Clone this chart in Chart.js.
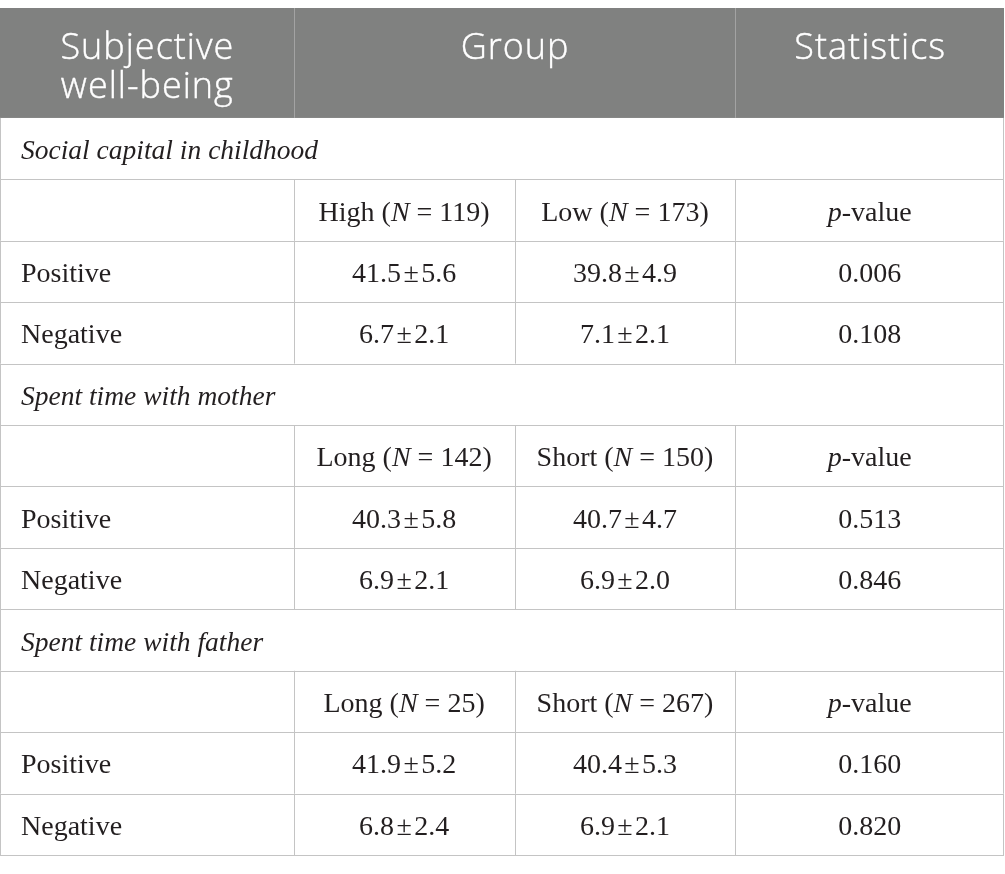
<!DOCTYPE html>
<html>
<head>
<meta charset="utf-8">
<script src="https://cdn.jsdelivr.net/npm/chart.js@4.4.1/dist/chart.umd.min.js"></script>
<style>
  html, body { margin: 0; padding: 0; background: #fff; }
  #wrap { width: 1005px; height: 874px; }
</style>
</head>
<body>
<div id="wrap"><canvas id="tableChart"></canvas></div>
<script>
// table content
const headerCols = ['Subjective\nwell-being', 'Group', 'Statistics'];
const sections = ['Social capital in childhood', 'Spent time with mother', 'Spent time with father'];
const groupA = ['High', 'Long', 'Long'];
const nA = [119, 142, 25];
const groupB = ['Low', 'Short', 'Short'];
const nB = [173, 150, 267];
const measures = ['Positive', 'Negative'];
const positiveA = [[41.5, 5.6], [40.3, 5.8], [41.9, 5.2]];
const positiveB = [[39.8, 4.9], [40.7, 4.7], [40.4, 5.3]];
const negativeA = [[6.7, 2.1], [6.9, 2.1], [6.8, 2.4]];
const negativeB = [[7.1, 2.1], [6.9, 2.0], [6.9, 2.1]];
const pPositive = [0.006, 0.513, 0.160];
const pNegative = [0.108, 0.846, 0.820];

// column edges as a fraction of the table width
const colEdges = [0, 0.2925, 0.5125, 0.7325, 1];
const headerUnits = 1.79; // header height in body-row units

const hair = '\u200A';
function meanSd(v) { return [{ t: v[0].toFixed(1) + hair + '±' + hair + v[1].toFixed(1) }]; }
function nLabel(g, n) { return [{ t: g + ' (' }, { t: 'N', i: true }, { t: ' = ' + n + ')' }]; }
const pLabel = [{ t: 'p', i: true }, { t: '-value' }];

// build body rows from the arrays
const rows = [];
sections.forEach((s, k) => {
  rows.push({ type: 'section', text: s });
  rows.push({ type: 'row', cells: [[], nLabel(groupA[k], nA[k]), nLabel(groupB[k], nB[k]), pLabel] });
  rows.push({ type: 'row', cells: [[{ t: measures[0] }], meanSd(positiveA[k]), meanSd(positiveB[k]), [{ t: pPositive[k].toFixed(3) }]] });
  rows.push({ type: 'row', cells: [[{ t: measures[1] }], meanSd(negativeA[k]), meanSd(negativeB[k]), [{ t: pNegative[k].toFixed(3) }]] });
});

const SERIF = '"Liberation Serif", "DejaVu Serif", serif';
const SANS = '"Open Sans", "Noto Sans", sans-serif';
const FS = 28;

function segWidth(ctx, segs, size) {
  let w = 0;
  segs.forEach(s => { ctx.font = (s.i ? 'italic ' : '') + size + 'px ' + SERIF; w += ctx.measureText(s.t).width; });
  return w;
}
function drawSegs(ctx, segs, x, y, size) {
  segs.forEach(s => {
    ctx.font = (s.i ? 'italic ' : '') + size + 'px ' + SERIF;
    ctx.fillText(s.t, x, y);
    x += ctx.measureText(s.t).width;
  });
}

const tablePlugin = {
  id: 'tablePlugin',
  afterDraw(chart) {
    const ctx = chart.ctx;
    const xs = chart.scales.x, ys = chart.scales.y;
    const cx = colEdges.map(e => xs.getPixelForValue(e));
    const left = cx[0], right = cx[cx.length - 1];
    const top = ys.getPixelForValue(0);
    const hBot = ys.getPixelForValue(headerUnits);
    ctx.save();

    // header
    ctx.fillStyle = '#808180';
    ctx.fillRect(left, top, right - left, hBot - top);
    ctx.strokeStyle = '#a3a3a3';
    ctx.lineWidth = 1;
    [cx[1], cx[3]].forEach(x => {
      ctx.beginPath(); ctx.moveTo(Math.round(x) + 0.5, top); ctx.lineTo(Math.round(x) + 0.5, hBot); ctx.stroke();
    });
    ctx.fillStyle = '#ffffff';
    ctx.strokeStyle = '#ffffff';
    ctx.lineWidth = 0.4;
    ctx.font = '300 36px ' + SANS;
    ctx.letterSpacing = '1px';
    ctx.textAlign = 'center';
    ctx.textBaseline = 'alphabetic';
    const hdrSpans = [[cx[0], cx[1]], [cx[1], cx[3]], [cx[3], cx[4]]];
    headerCols.forEach((h, i) => {
      const mid = (hdrSpans[i][0] + hdrSpans[i][1]) / 2 + 0.5;
      h.split('\n').forEach((line, j) => {
        ctx.fillText(line, mid, top + 51 + j * 39);
        ctx.strokeText(line, mid, top + 51 + j * 39); // a touch heavier than light
      });
    });
    ctx.letterSpacing = '0px';

    // body
    ctx.strokeStyle = '#c4c4c4';
    ctx.lineWidth = 1;
    ctx.textAlign = 'left';
    rows.forEach((r, i) => {
      const y0 = ys.getPixelForValue(headerUnits + i);
      const y1 = ys.getPixelForValue(headerUnits + i + 1);
      const base = (y0 + y1) / 2 + 10.5;
      ctx.beginPath();
      ctx.moveTo(left, Math.round(y1) + 0.5); ctx.lineTo(right, Math.round(y1) + 0.5);
      ctx.moveTo(left + 0.5, y0); ctx.lineTo(left + 0.5, y1);
      ctx.moveTo(right - 0.5, y0); ctx.lineTo(right - 0.5, y1);
      if (r.type === 'row') {
        cx.slice(1, 4).forEach(x => { ctx.moveTo(Math.round(x) + 0.5, y0); ctx.lineTo(Math.round(x) + 0.5, y1); });
      }
      ctx.stroke();
      ctx.fillStyle = '#231f20';
      if (r.type === 'section') {
        drawSegs(ctx, [{ t: r.text, i: true }], left + 21, base, FS - 0.5);
      } else {
        r.cells.forEach((segs, c) => {
          if (c === 0) { drawSegs(ctx, segs, left + 21, base, FS); return; }
          const w = segWidth(ctx, segs, FS);
          drawSegs(ctx, segs, (cx[c] + cx[c + 1]) / 2 - w / 2, base, FS);
        });
      }
    });
    ctx.restore();
  }
};

new Chart(document.getElementById('tableChart'), {
  type: 'scatter',
  data: { datasets: [] },
  options: {
    responsive: true,
    maintainAspectRatio: false,
    animation: false,
    layout: { padding: { top: 8, bottom: 19, left: 0, right: 1 } },
    plugins: { legend: { display: false }, tooltip: { enabled: false } },
    scales: {
      x: { type: 'linear', min: 0, max: 1, display: false },
      y: { type: 'linear', reverse: true, min: 0, max: headerUnits + rows.length, display: false }
    }
  },
  plugins: [tablePlugin]
});
</script>
</body>
</html>
